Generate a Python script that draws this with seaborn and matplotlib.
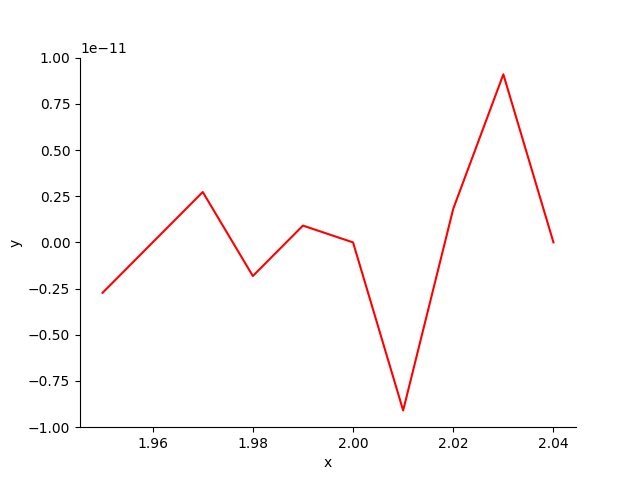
import matplotlib
matplotlib.use("Agg")
import matplotlib.pyplot as plt
import pandas as pd
import seaborn as sns

# values (y in units of 1e-11)
x_vals = [1.95, 1.96, 1.97, 1.98, 1.99, 2.00, 2.01, 2.02, 2.03, 2.04]
y_scaled = [-0.2728, 0.0, 0.2728, -0.1819, 0.0909, 0.0, -0.9095, 0.1819, 0.9095, 0.0]
y_vals = [v * 1e-11 for v in y_scaled]

df = pd.DataFrame({"x": x_vals, "y": y_vals})

fig, ax = plt.subplots(figsize=(6.4, 4.8), dpi=100)
sns.lineplot(data=df, x="x", y="y", color="red", ax=ax)
ax.set_ylim(-1e-11, 1e-11)
sns.despine(ax=ax)
fig.savefig("out.png", dpi=100)
plt.close(fig)
